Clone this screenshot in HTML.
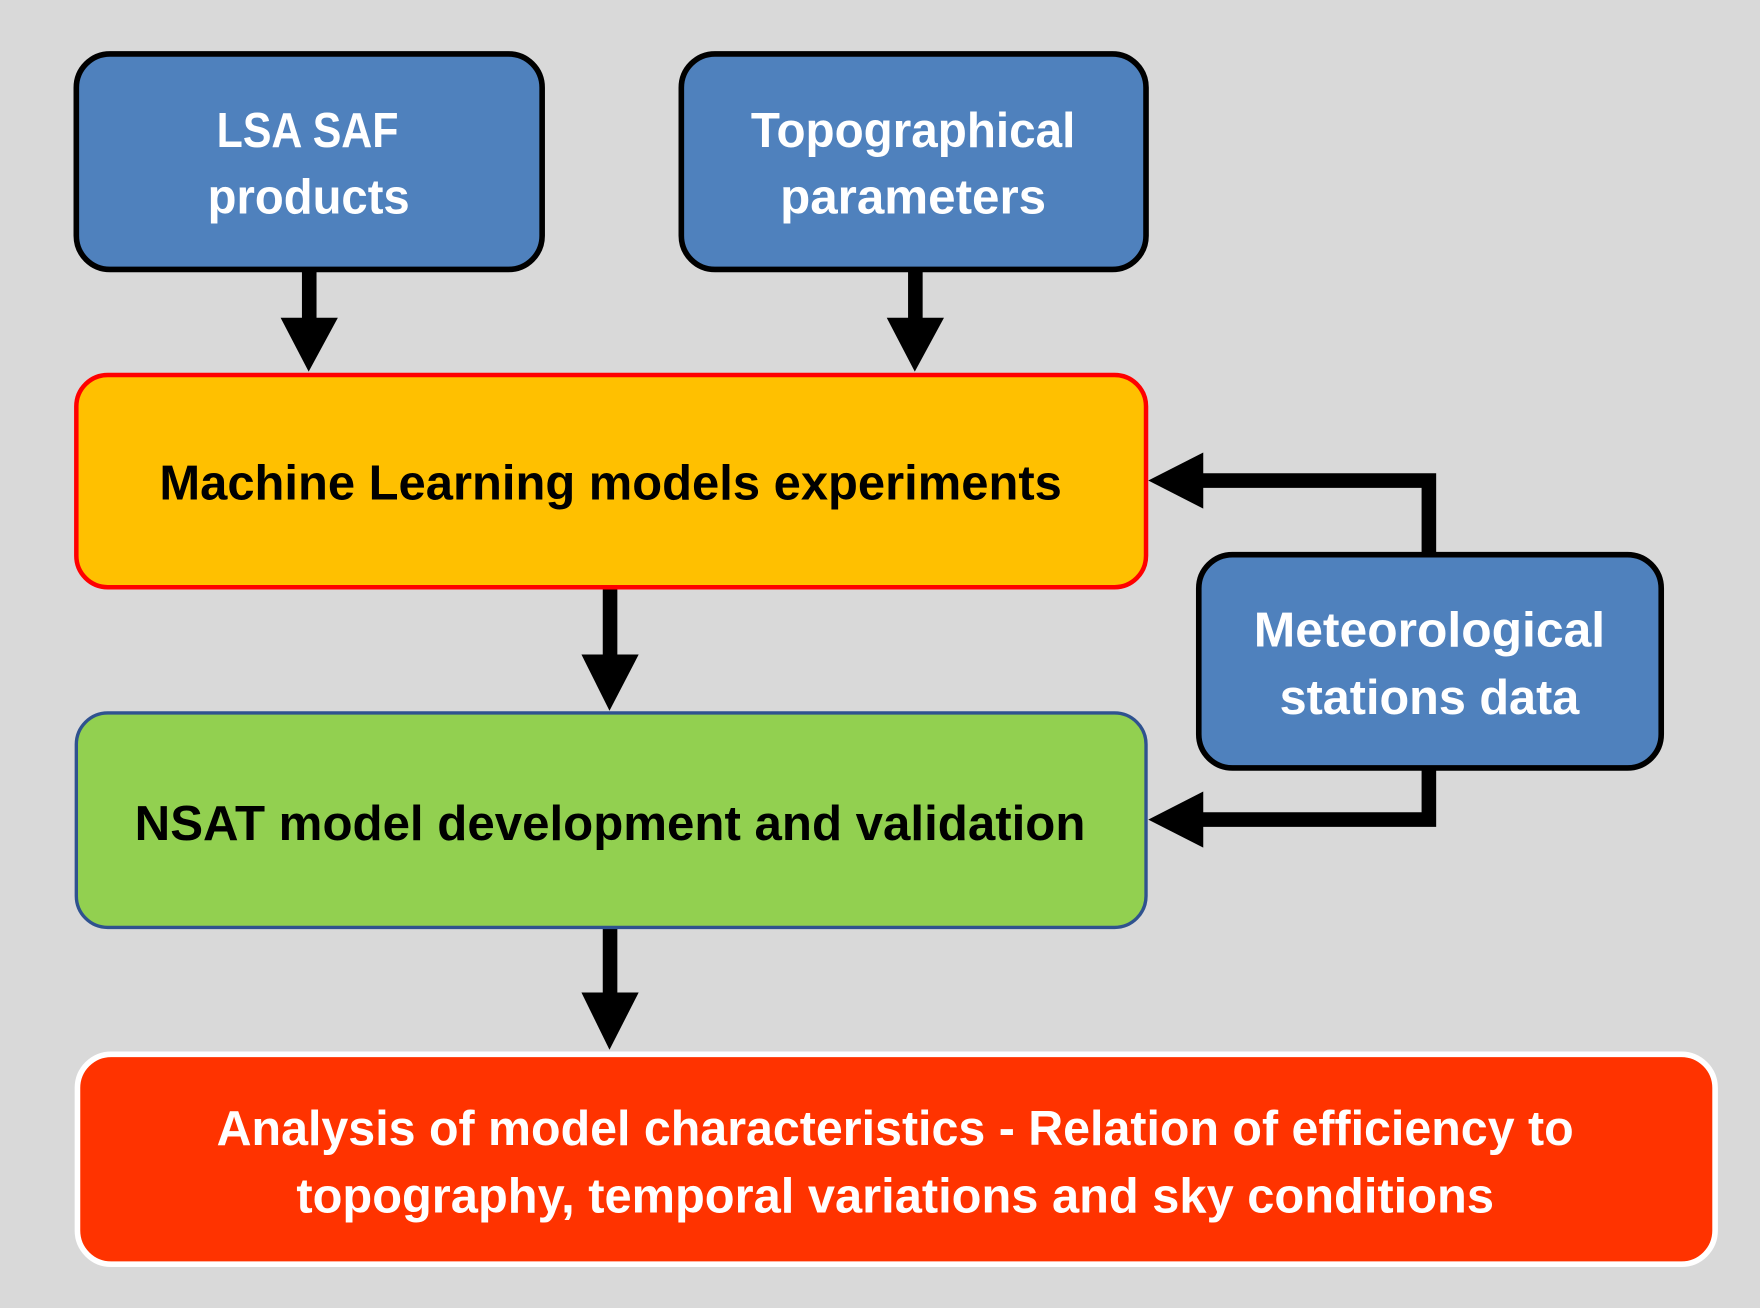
<!DOCTYPE html>
<html><head><meta charset="utf-8"><style>
html,body{margin:0;padding:0;background:#d9d9d9;}
svg{display:block;}
text{font-family:"Liberation Sans",sans-serif;font-weight:bold;font-size:44px;}
</style></head><body>
<svg width="1760" height="1308" viewBox="0 0 1568 1165" preserveAspectRatio="none" xmlns="http://www.w3.org/2000/svg">
<rect width="1568" height="1165" fill="#d9d9d9"/>
<!-- top boxes -->
<rect x="68" y="48" width="415" height="192" rx="30" fill="#4f81bd" stroke="#000" stroke-width="5"/>
<text x="193" y="131" fill="#fff" textLength="162" lengthAdjust="spacingAndGlyphs">LSA SAF</text>
<text x="185" y="190" fill="#fff" textLength="180" lengthAdjust="spacingAndGlyphs">products</text>
<rect x="607" y="48" width="414" height="192" rx="30" fill="#4f81bd" stroke="#000" stroke-width="5"/>
<text x="669" y="131" fill="#fff" textLength="289" lengthAdjust="spacingAndGlyphs">Topographical</text>
<text x="695" y="190" fill="#fff" textLength="237" lengthAdjust="spacingAndGlyphs">parameters</text>
<!-- arrows down -->
<g fill="#000">
<rect x="269" y="240" width="13" height="45"/><polygon points="250,283 301,283 275,331"/>
<rect x="809" y="240" width="13" height="45"/><polygon points="790,283 841,283 815,331"/>
<rect x="537" y="523" width="13" height="62"/><polygon points="518,583 569,583 543,633"/>
<rect x="537" y="826" width="13" height="62"/><polygon points="518,884 569,884 543,935"/>
</g>
<!-- yellow -->
<rect x="68" y="334" width="953" height="189" rx="28" fill="#ffc000" stroke="#ff0000" stroke-width="4"/>
<text x="142" y="445" fill="#000" textLength="804" lengthAdjust="spacingAndGlyphs">Machine Learning models experiments</text>
<!-- green -->
<rect x="68" y="635" width="953" height="191" rx="28" fill="#92d050" stroke="#2f528f" stroke-width="3"/>
<text x="120" y="748" fill="#000" textLength="847" lengthAdjust="spacingAndGlyphs">NSAT model development and validation</text>
<!-- meteorological -->
<rect x="1068" y="494" width="412" height="190" rx="30" fill="#4f81bd" stroke="#000" stroke-width="5"/>
<text x="1117" y="576" fill="#fff" textLength="313" lengthAdjust="spacingAndGlyphs">Meteorological</text>
<text x="1140" y="636" fill="#fff" textLength="267" lengthAdjust="spacingAndGlyphs">stations data</text>
<!-- connectors -->
<polyline points="1273,494 1273,428 1068,428" fill="none" stroke="#000" stroke-width="13"/>
<polygon points="1072,403 1072,453 1023,428" fill="#000"/>
<polyline points="1273,684 1273,730 1068,730" fill="none" stroke="#000" stroke-width="13"/>
<polygon points="1072,705 1072,755 1023,730" fill="#000"/>
<!-- red -->
<rect x="69" y="939" width="1459" height="187" rx="30" fill="#ff3300" stroke="#fff" stroke-width="5"/>
<text x="193" y="1020" fill="#fff" textLength="1209" lengthAdjust="spacingAndGlyphs">Analysis of model characteristics - Relation of efficiency to</text>
<text x="264" y="1080" fill="#fff" textLength="1067" lengthAdjust="spacingAndGlyphs">topography, temporal variations and sky conditions</text>
</svg>
</body></html>
